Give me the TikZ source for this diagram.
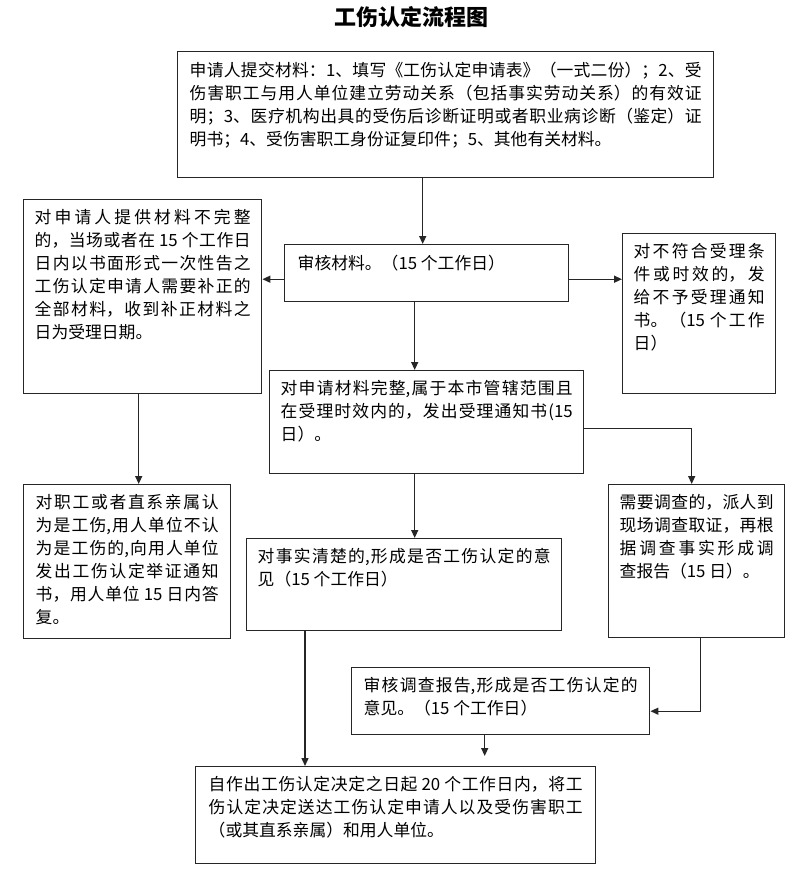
\documentclass[tikz,border=0pt]{standalone}
\usepackage{fontspec}
\setmainfont{Noto Sans CJK SC}
\usetikzlibrary{arrows.meta}
\XeTeXlinebreaklocale "zh"
\XeTeXlinebreakskip = 0pt plus 4pt

\newcommand{\boxtext}[3]{\begin{minipage}[t][#2][t]{#1}#3\end{minipage}}

\tikzset{
  flowbox/.style={draw=black!85, line width=1.4pt, anchor=north west, inner xsep=12pt, inner ysep=10pt, font=\fontsize{16.8}{23}\selectfont},
  flowarrow/.style={draw=black!85, line width=1.4pt, -{Triangle[length=8pt,width=7pt]}},
}

\begin{document}
\begin{tikzpicture}[x=1pt,y=-1pt]
            \useasboundingbox (0,0) rectangle (805,873);

            % Title
            \node[font=\bfseries\fontsize{22}{26}\selectfont] (title) at (411,17) {工伤认定流程图};

            % Draw the boxes
            \node[flowbox] (submit) at (177,51) {\boxtext{512pt}{106pt}{申请人提交材料：1、填写《工伤认定申请表》（一式二份）；2、受\linebreak
            伤害职工与用人单位建立劳动关系（包括事实劳动关系）的有效证\linebreak
            明；3、医疗机构出具的受伤后诊断证明或者职业病诊断（鉴定）证\linebreak
            明书；4、受伤害职工身份证复印件；5、其他有关材料。}};

            \node[flowbox, inner xsep=13pt] (review) at (284,244) {\boxtext{258pt}{37pt}{审核材料。（15 个工作日）}};

            \node[flowbox, inner xsep=11pt] (incomplete) at (23,199) {\boxtext{216pt}{174pt}{对申请人提供材料不完整\linebreak
            的，当场或者在 15 个工作日\linebreak
            日内以书面形式一次性告之\linebreak
            工伤认定申请人需要补正的\linebreak
            全部材料，收到补正材料之\linebreak
            日为受理日期。}};

            \node[flowbox, inner xsep=11pt] (reject) at (622,233) {\boxtext{131pt}{140pt}{对不符合受理条\linebreak
            件或时效的，发\linebreak
            给不予受理通知\linebreak
            书。（15 个工作\linebreak
            日）}};

            \node[flowbox, inner xsep=11pt] (accept) at (269,370) {\boxtext{292pt}{83pt}{对申请材料完整,属于本市管辖范围且\linebreak
            在受理时效内的，发出受理通知书(15\linebreak
            日）。}};

            \node[flowbox] (proof) at (23,484) {\boxtext{183pt}{134pt}{对职工或者直系亲属认\linebreak
            为是工伤,用人单位不认\linebreak
            为是工伤的,向用人单位\linebreak
            发出工伤认定举证通知\linebreak
            书，用人单位 15 日内答\linebreak
            复。}};

            \node[flowbox, inner xsep=11pt] (clear) at (246,538) {\boxtext{293pt}{72pt}{对事实清楚的,形成是否工伤认定的意\linebreak
            见（15 个工作日）}};

            \node[flowbox, inner xsep=11pt] (survey) at (608,484) {\boxtext{154pt}{133pt}{需要调查的，派人到\linebreak
            现场调查取证，再根\linebreak
            据调查事实形成调\linebreak
            查报告（15 日）。}};

            \node[flowbox] (report) at (351,667) {\boxtext{274pt}{47pt}{审核调查报告,形成是否工伤认定的\linebreak
            意见。（15 个工作日）}};

            \node[flowbox, inner xsep=13pt] (decision) at (195,766) {\boxtext{374pt}{77pt}{自作出工伤认定决定之日起 20 个工作日内，将工\linebreak
            伤认定决定送达工伤认定申请人以及受伤害职工\linebreak
            （或其直系亲属）和用人单位。}};

            % Draw the arrows
            \draw[flowarrow] ([xshift=-4]review.north |- submit.south) -- ([xshift=-4]review.north);
            \draw[flowarrow] ([yshift=-6]review.west) -- ([yshift=-6]review.west -| incomplete.east);
            \draw[flowarrow] ([yshift=-6]review.east) -- ([yshift=-6]review.east -| reject.west);
            \draw[flowarrow] ([xshift=-12]review.south) -- ([xshift=-12]review.south |- accept.north);
            \draw[flowarrow] ([xshift=-4]incomplete.south) -- ([xshift=-4]incomplete.south |- proof.north);
            \draw[flowarrow] ([yshift=-6]accept.east) -| ([xshift=-5]survey.north);
            \draw[flowarrow] ([xshift=-12]accept.south) -- ([xshift=-12]accept.south |- clear.north);
            \draw[flowarrow] ([xshift=59]clear.south west) -- ([xshift=59]clear.south west |- decision.north);
            \draw[flowarrow] ([xshift=4]survey.south) |- ([yshift=-10]report.east);
            \draw[flowarrow, shorten >=10pt] ([xshift=-16]report.south) -- ([xshift=-16]report.south |- decision.north);

        \end{tikzpicture}
\end{document}
